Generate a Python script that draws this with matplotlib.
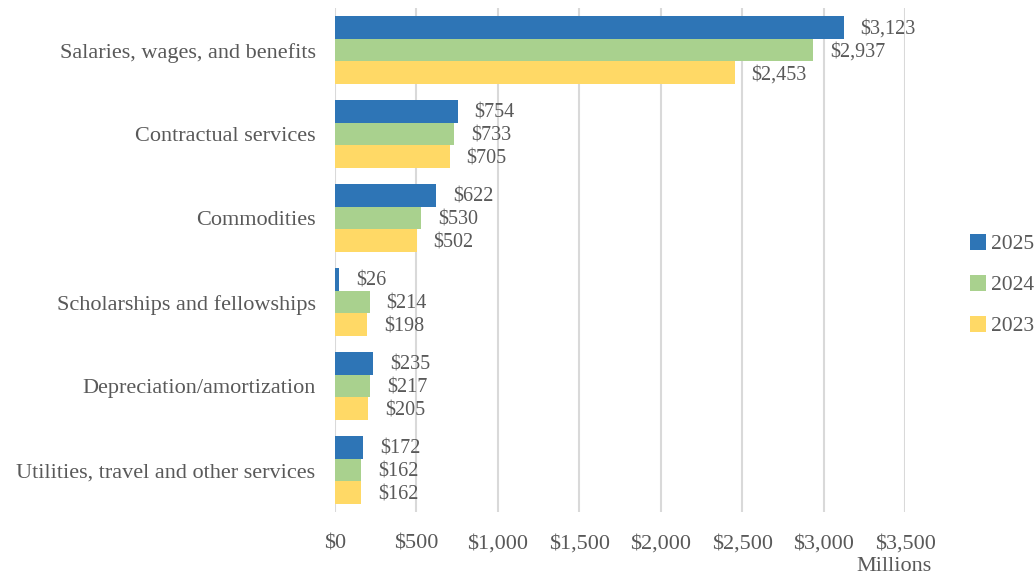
import numpy as np
import matplotlib

matplotlib.use("Agg")
import matplotlib.pyplot as plt

categories = [
    "Salaries, wages, and benefits",
    "Contractual services",
    "Commodities",
    "Scholarships and fellowships",
    "Depreciation/amortization",
    "Utilities, travel and other services",
]
years = ["2025", "2024", "2023"]
values_2025 = [3123, 754, 622, 26, 235, 172]
values_2024 = [2937, 733, 530, 214, 217, 162]
values_2023 = [2453, 705, 502, 198, 205, 162]
xticks = [0, 500, 1000, 1500, 2000, 2500, 3000, 3500]

colors = ["#2E75B6", "#A9D18E", "#FFD966"]
text_color = "#595959"

plt.rcParams["font.family"] = ["Liberation Serif", "DejaVu Serif"]
plt.rcParams["font.size"] = 16

fig = plt.figure(figsize=(10.36, 5.76), dpi=100)
ax = fig.add_axes([0.3234, 0.111, 0.8736 - 0.3234, 0.875])

y = np.arange(len(categories))
h = 0.27
series = [values_2025, values_2024, values_2023]
for k, (vals, col, yr) in enumerate(zip(series, colors, years)):
    pos = y + (k - 1) * h
    ax.barh(pos, vals, height=h, color=col, label=yr, zorder=2)
    for p, v in zip(pos, vals):
        ax.annotate(f"${v:,}", (v, p), xytext=(12, -1.5), textcoords="offset points",
                    va="center", ha="left", color=text_color, fontsize=14.5)

ax.set_ylim(len(categories) - 0.5, -0.5)
ax.set_xlim(0, 3500)
ax.set_yticks(y)
ax.set_yticklabels(categories, color=text_color)
ax.set_xticks(xticks)
ax.set_xticklabels([f"${t:,}" for t in xticks], color=text_color)
ax.tick_params(axis="both", length=0)
ax.tick_params(axis="x", pad=16)
ax.tick_params(axis="y", pad=14)
ax.grid(axis="x", color="#d9d9d9", linewidth=1.5, zorder=0)
for s in ax.spines.values():
    s.set_visible(False)

fig.text(0.899, 0.0, "Millions", ha="right", va="bottom", color=text_color)

fig.legend(loc="center left", bbox_to_anchor=(0.936, 0.505), frameon=False,
           borderpad=0, borderaxespad=0,
           handlelength=0.75, handleheight=0.75, handletextpad=0.25,
           labelspacing=0.95, fontsize=15.5, labelcolor=text_color)

fig.savefig("out.png", dpi=100)
